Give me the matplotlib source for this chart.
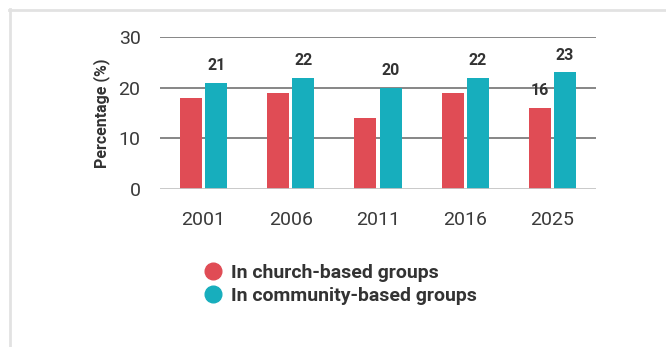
import matplotlib
matplotlib.use("Agg")
import matplotlib.pyplot as plt
import numpy as np
from matplotlib.lines import Line2D

years = ["2001", "2006", "2011", "2016", "2025"]
church = [18, 19, 14, 19, 16]
community = [21, 22, 20, 22, 23]
series_names = ["In church-based groups", "In community-based groups"]
y_ticks = [0, 10, 20, 30]

RED = "#e04c55"
TEAL = "#17aebd"
TEXT = "#333333"

plt.rcParams["font.family"] = ["Roboto", "DejaVu Sans"]

fig = plt.figure(figsize=(6.66, 3.47), dpi=100)
ax = fig.add_axes([160 / 666, 1 - 189 / 347, 436 / 666, 152 / 347])

x = np.arange(len(years))
w = 0.253
off = 0.145
ax.bar(x - off, church, w, color=RED, zorder=3)
ax.bar(x + off, community, w, color=TEAL, zorder=3)

# value labels: all community bars, church label only for the last year
for xi, v in zip(x, community):
    ax.annotate(str(v), (xi + off, v), xytext=(0, 7), textcoords="offset points",
                ha="center", va="bottom", fontsize=11.5, fontweight="bold", color=TEXT)
ax.annotate(str(church[-1]), (x[-1] - off, church[-1]), xytext=(0, 7),
            textcoords="offset points", ha="center", va="bottom",
            fontsize=11.5, fontweight="bold", color=TEXT)

ax.set_xlim(-0.5, 4.5)
ax.set_ylim(0, 30)
ax.set_xticks(x)
ax.set_xticklabels(years)
ax.set_yticks(y_ticks)
ax.tick_params(axis="both", length=0, labelsize=14, colors="#3a3a3a")
ax.tick_params(axis="x", pad=16)
ax.tick_params(axis="y", pad=14)

for s in ax.spines.values():
    s.set_visible(False)
for v in y_ticks[1:]:
    ax.axhline(v, color="#666666", linewidth=1.1, zorder=1)
ax.axhline(0, color="#c4c4c4", linewidth=2, zorder=4)

ax.set_ylabel("Percentage (%)", fontsize=11.5, fontweight="bold", color=TEXT, labelpad=6)

handles = [Line2D([], [], marker="o", linestyle="none", markersize=12, color=c)
           for c in (RED, TEAL)]
leg = fig.legend(handles, series_names, loc="center left",
                 bbox_to_anchor=(203 / 666, 1 - 284.5 / 347), frameon=False,
                 handlelength=1.0, handletextpad=0.43, labelspacing=0.25,
                 borderpad=0, borderaxespad=0,
                 prop={"size": 14, "weight": "bold"})
for t in leg.get_texts():
    t.set_color(TEXT)

# card border (top and left edges)
fig.add_artist(Line2D([9 / 666, 1], [1 - 9.5 / 347, 1 - 9.5 / 347],
                      transform=fig.transFigure, color="#e2e2e2", linewidth=2))
fig.add_artist(Line2D([9.5 / 666, 9.5 / 666], [0, 1 - 9 / 347],
                      transform=fig.transFigure, color="#e2e2e2", linewidth=2))

fig.savefig("out.png", dpi=100)
